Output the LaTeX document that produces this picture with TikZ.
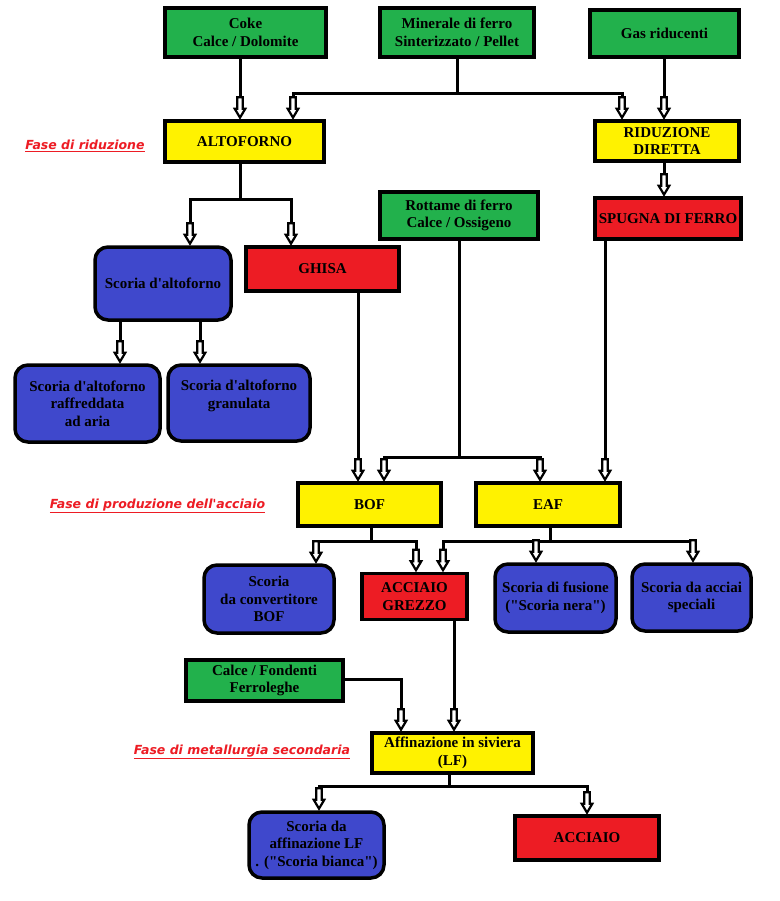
\documentclass[tikz,border=0pt]{standalone}
\usepackage{fontspec}
\newfontfamily\boxfont{Liberation Serif}
\newfontfamily\labfont{DejaVu Sans}
\usetikzlibrary{arrows.meta}
\definecolor{pgreen}{HTML}{22B14C}
\definecolor{pyellow}{HTML}{FFF200}
\definecolor{pred}{HTML}{ED1C24}
\definecolor{pblue}{HTML}{3F48CC}
\pgfdeclarearrow{
  name=HollowArr,
  setup code={
    \pgfarrowssettipend{0pt}
    \pgfarrowssetlineend{-18pt}
    \pgfarrowssetbackend{-23pt}
    \pgfarrowssetvisualbackend{-23pt}
    \pgfarrowshullpoint{0pt}{0pt}
    \pgfarrowshullpoint{-23pt}{6pt}
    \pgfarrowshullpoint{-23pt}{-6pt}
  },
  drawing code={
    \pgfsetdash{}{0pt}
    \pgfsetlinewidth{2.2pt}
    \pgfsetmiterjoin
    \pgfpathmoveto{\pgfpoint{-1.6pt}{0pt}}
    \pgfpathlineto{\pgfpoint{-10.5pt}{5.3pt}}
    \pgfpathlineto{\pgfpoint{-10.5pt}{2.7pt}}
    \pgfpathlineto{\pgfpoint{-22pt}{2.7pt}}
    \pgfpathlineto{\pgfpoint{-22pt}{-2.7pt}}
    \pgfpathlineto{\pgfpoint{-10.5pt}{-2.7pt}}
    \pgfpathlineto{\pgfpoint{-10.5pt}{-5.3pt}}
    \pgfpathclose
    \pgfsetfillcolor{white}
    \pgfusepathqfillstroke
  },
}
\tikzset{
  box/.style={draw=black, line width=3.5pt, inner sep=0pt, align=center,
    font=\boxfont\bfseries\fontsize{15}{17.5}\selectfont, text=black},
  greenbox/.style={box, fill=pgreen},
  yellowbox/.style={box, fill=pyellow},
  redbox/.style={box, fill=pred},
  bluebox/.style={box, fill=pblue, rounded corners=13pt},
  link/.style={draw=black, line width=3pt, line join=miter},
  conn/.style={link, -{HollowArr}},
  phase/.style={text=pred, inner sep=0pt,
    font=\labfont\bfseries\itshape\fontsize{12.5}{15}\selectfont},
}
\begin{document}
\begin{tikzpicture}[x=1pt, y=-1pt]
\useasboundingbox (0,0) rectangle (779,901);
\fill[white] (0,0) rectangle (779,901);

% x positions of vertical connectors
\foreach \xx in {120,190,200,240,291,293,316,319,358,371,384,401,416,443,449,454,459,536,540,550,587,605,622,664,693}
  \coordinate (X\xx) at (\xx,0);

% top inputs
\node[greenbox, minimum width=161pt, minimum height=49pt] (coke) at (245.5,32.5) {Coke\\Calce / Dolomite};
\node[greenbox, minimum width=154pt, minimum height=49pt] (mine) at (457,32.5) {Minerale di ferro\\Sinterizzato / Pellet};
\node[greenbox, minimum width=149pt, minimum height=47pt] (gas) at (664.5,33.5) {Gas riducenti};

% reduction phase
\node[yellowbox, minimum width=159pt, minimum height=41pt] (alto) at (244.5,141.5) {ALTOFORNO};
\node[yellowbox, minimum width=144pt, minimum height=40pt] (rid) at (667,141) {RIDUZIONE\\DIRETTA};
\node[phase] (ph1) at (85,146) {\underline{Fase di riduzione}};

\node[bluebox, minimum width=136pt, minimum height=73pt] (sa) at (163,283.5) {Scoria d'altoforno};
\node[redbox, minimum width=153pt, minimum height=44pt] (ghisa) at (322.5,269) {GHISA};
\node[bluebox, minimum width=145pt, minimum height=77pt] (raff) at (87.5,403.5) {Scoria d'altoforno\\raffreddata\\ad aria};
\node[bluebox, minimum width=142pt, minimum height=76pt] (gran) at (239,403) {Scoria d'altoforno\\granulata\\\mbox{}};

\node[greenbox, minimum width=158pt, minimum height=47pt] (rott) at (459,215.5) {Rottame di ferro\\Calce / Ossigeno};
\node[redbox, minimum width=146pt, minimum height=41pt] (spugna) at (668,218.5) {SPUGNA DI FERRO};

% steel production phase
\node[yellowbox, minimum width=143pt, minimum height=43pt] (bof) at (369.5,504.5) {BOF};
\node[yellowbox, minimum width=144pt, minimum height=43pt] (eaf) at (548,504.5) {EAF};
\node[phase] (ph2) at (157.5,506) {\underline{Fase di produzione dell'acciaio}};

\node[bluebox, minimum width=130pt, minimum height=68pt] (sbof) at (269,599) {Scoria\\da convertitore\\BOF};
\node[redbox, minimum width=105pt, minimum height=46pt] (grezzo) at (414.5,596.5) {ACCIAIO\\GREZZO};
\node[bluebox, minimum width=121pt, minimum height=68pt] (sfus) at (555.5,598) {Scoria di fusione\\("Scoria nera")};
\node[bluebox, minimum width=119pt, minimum height=67pt] (sspec) at (691.5,597.5) {Scoria da acciai\\speciali};

% secondary metallurgy
\node[greenbox, minimum width=157pt, minimum height=41pt] (calce) at (264.5,680.5) {Calce / Fondenti\\Ferroleghe};
\node[yellowbox, minimum width=161pt, minimum height=40pt] (aff) at (452.5,753) {Affinazione in siviera\\(LF)};
\node[phase] (ph3) at (242,752) {\underline{Fase di metallurgia secondaria}};
\node[bluebox, minimum width=135pt, minimum height=66pt] (slf) at (316.5,845) {Scoria da\\affinazione LF\\. ("Scoria bianca")};
\node[redbox, minimum width=144pt, minimum height=44pt] (acc) at (587,838) {ACCIAIO};

% connectors
\draw[conn] (coke.south -| X240) -- (alto.north -| X240);
\draw[link] (mine.south) -- ++(0,35) coordinate (mj);
\draw[conn] (mj) -| (alto.north -| X293);
\draw[conn] (mj) -| (rid.north -| X622);
\draw[conn] (gas.south -| X664) -- (rid.north -| X664);

\draw[link] (alto.south -| X240) -- ++(0,36) coordinate (aj);
\draw[conn] (aj) -| (sa.north -| X190);
\draw[conn] (aj) -| (ghisa.north -| X291);
\draw[conn] (sa.south -| X120) -- (raff.north -| X120);
\draw[conn] (sa.south -| X200) -- (gran.north -| X200);

\draw[conn] (rid.south -| X664) -- (spugna.north -| X664);

\draw[link] (rott.south -| X459) -- ++(0,217) coordinate (rj);
\draw[conn] (rj) -| (bof.north -| X384);
\draw[conn] (rj) -| (eaf.north -| X540);
\draw[conn] (ghisa.south -| X358) -- (bof.north -| X358);
\draw[conn] (spugna.south -| X605) -- (eaf.north -| X605);

\draw[link] (bof.south -| X371) -- ++(0,14) coordinate (bj);
\draw[conn] (bj) -| (sbof.north -| X316);
\draw[conn] (bj) -| (grezzo.north -| X416);
\draw[link] (eaf.south -| X550) -- ++(0,14) coordinate (ej);
\draw[conn] (ej) -| (grezzo.north -| X443);
\draw[conn] (ej) -| (sfus.north -| X536);
\draw[conn] (ej) -| (sspec.north -| X693);

\draw[conn] (grezzo.south -| X454) -- (aff.north -| X454);
\draw[conn] ([yshift=1.5pt]calce.east) -| (aff.north -| X401);

\draw[link] (aff.south -| X449) -- ++(0,12) coordinate (fj);
\draw[conn] (fj) -| (slf.north -| X319);
\draw[conn] (fj) -| (acc.north -| X587);
\end{tikzpicture}
\end{document}
